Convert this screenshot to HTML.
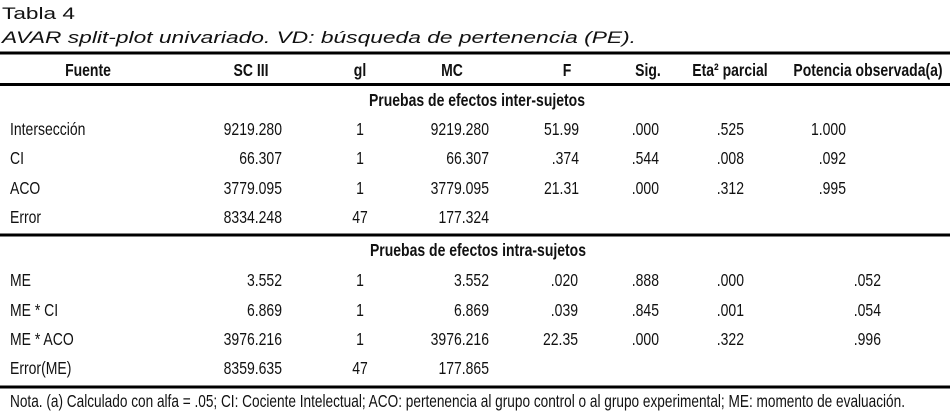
<!DOCTYPE html>
<html><head><meta charset="utf-8">
<style>
html,body{margin:0;padding:0;background:#fff;width:950px;height:412px;overflow:hidden}
svg{display:block;font-family:"Liberation Sans",Arial,sans-serif;fill:#111}
</style></head>
<body>
<svg id="s" width="950" height="412" viewBox="0 0 950 412">
<text x="2" y="19" font-size="17" textLength="73" lengthAdjust="spacingAndGlyphs">Tabla 4</text>
<text x="2" y="43" font-size="17" font-style="italic" textLength="634" lengthAdjust="spacingAndGlyphs">AVAR split-plot univariado. VD: búsqueda de pertenencia (PE).</text>
<rect x="0" y="51.5" width="950" height="3" fill="#000"/>
<rect x="0" y="83" width="950" height="3" fill="#000"/>
<rect x="0" y="233.5" width="950" height="3" fill="#000"/>
<rect x="0" y="385.5" width="950" height="3" fill="#000"/>
<g id="g" transform="scale(0.8,1)" font-size="17.5"></g>
<text x="10" y="407" font-size="17.5" textLength="895" lengthAdjust="spacingAndGlyphs">Nota. (a) Calculado con alfa = .05; CI: Cociente Intelectual; ACO: pertenencia al grupo control o al grupo experimental; ME: momento de evaluación.</text>
</svg>
<script>
const headers=["Fuente","SC III","gl","MC","F","Sig.","Eta² parcial","Potencia observada(a)"];
const sources=["Intersección","CI","ACO","Error","ME","ME * CI","ME * ACO","Error(ME)"];
const sc=["9219.280","66.307","3779.095","8334.248","3.552","6.869","3976.216","8359.635"];
const gl=["1","1","1","47","1","1","1","47"];
const mc=["9219.280","66.307","3779.095","177.324","3.552","6.869","3976.216","177.865"];
const fv=["51.99",".374","21.31","",".020",".039","22.35",""];
const sig=[".000",".544",".000","",".888",".845",".000",""];
const eta=[".525",".008",".312","",".000",".001",".322",""];
const pot=["1.000",".092",".995","",".052",".054",".996",""];
const K=0.8, g=document.getElementById('g'), NS="http://www.w3.org/2000/svg";
function t(x,y,s,anchor,bold){
  const e=document.createElementNS(NS,'text');
  e.setAttribute('x',x/K);e.setAttribute('y',y);
  e.setAttribute('text-anchor',anchor);
  if(bold)e.setAttribute('font-weight','bold');
  e.textContent=s;g.appendChild(e);return e;
}
const hx=[88,251,360,452,567,648,730,868];
headers.forEach((h,i)=>{
  const e=t(hx[i],76,h,'middle',true);
  
  
});
let e=t(477,106,"Pruebas de efectos inter-sujetos",'middle',true);


e=t(478,256,"Pruebas de efectos intra-sujetos",'middle',true);


const ys=[135,164,194,223,286,316,345,374];
sources.forEach((s,i)=>{
  const y=ys[i], inter=i<4;
  const cells=[
    t(10,y,s,'start'),
    t(282,y,sc[i],'end'),
    t(360,y,gl[i],'middle'),
    t(489,y,mc[i],'end'),
    t(inter?579:578,y,fv[i],'end'),
    t(659,y,sig[i],'end'),
    t(744,y,eta[i],'end'),
    t(inter?846:881,y,pot[i],'end')
  ];
  cells.forEach(c=>{
    
    
  });
});
</script>
</body></html>
